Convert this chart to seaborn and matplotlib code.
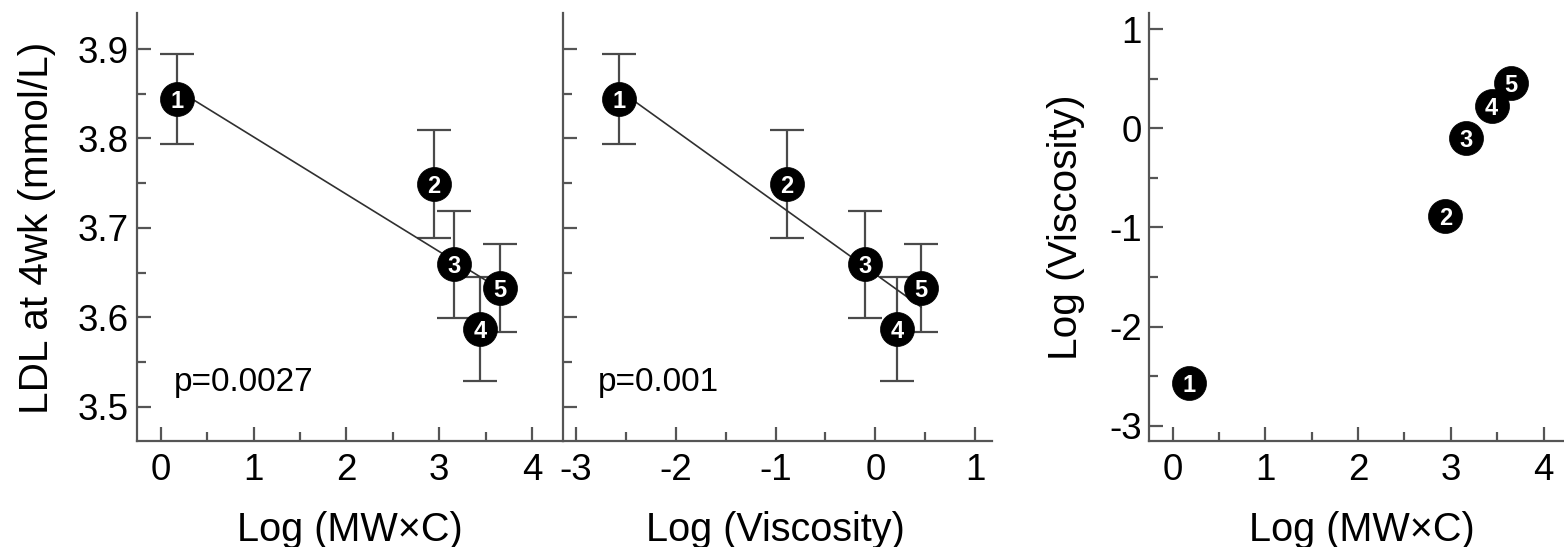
import matplotlib
matplotlib.use("Agg")
import matplotlib.pyplot as plt
from matplotlib.ticker import MultipleLocator
import seaborn as sns
import pandas as pd

# ---- data ----
groups = ["1", "2", "3", "4", "5"]
log_mwc = [0.175, 2.94, 3.16, 3.44, 3.65]
log_visc = [-2.57, -0.89, -0.10, 0.22, 0.46]
ldl = [3.844, 3.749, 3.659, 3.587, 3.633]
ldl_err = [0.050, 0.060, 0.060, 0.058, 0.049]
p_labels = ["p=0.0027", "p=0.001"]

df = pd.DataFrame({"group": groups, "mwc": log_mwc, "visc": log_visc,
                   "ldl": ldl, "err": ldl_err})

sns.set_style("ticks")
plt.rcParams["font.family"] = ["Liberation Sans", "DejaVu Sans"]
plt.rcParams["axes.unicode_minus"] = False
plt.rcParams["text.color"] = "black"
plt.rcParams["axes.labelcolor"] = "black"

SPINE = "#555555"
TICK_FS = 26.5
XLABEL_FS = 28.5
YLABEL_FS = 29.2
P_FS = 24
MS = 600
LW = 1.6

fig = plt.figure(figsize=(15.64, 5.47), dpi=100)
ax1 = fig.add_axes([0.0874, 0.1929, 0.2724, 0.7828])
ax2 = fig.add_axes([0.3602, 0.1929, 0.2739, 0.7828])
ax3 = fig.add_axes([0.7349, 0.1929, 0.2651, 0.7828])


def style_axis(ax, xmaj, xmin, ymaj, ymin):
    for s in ["top", "right"]:
        ax.spines[s].set_visible(False)
    for s in ["left", "bottom"]:
        ax.spines[s].set_color(SPINE)
        ax.spines[s].set_linewidth(LW)
    ax.xaxis.set_major_locator(MultipleLocator(xmaj))
    ax.xaxis.set_minor_locator(MultipleLocator(xmin))
    ax.yaxis.set_major_locator(MultipleLocator(ymaj))
    ax.yaxis.set_minor_locator(MultipleLocator(ymin))
    ax.tick_params(which="major", direction="in", length=10, width=LW,
                   color=SPINE, labelsize=TICK_FS, labelcolor="black")
    ax.tick_params(which="minor", direction="in", length=6.5, width=LW,
                   color=SPINE)
    ax.tick_params(axis="y", which="major", pad=5.5)
    ax.tick_params(axis="x", which="major", pad=8)
    ax.set_facecolor("white")


def draw_points(ax, xcol, ycol):
    sns.scatterplot(data=df, x=xcol, y=ycol, ax=ax, s=MS, color="black",
                    edgecolor="black", linewidth=0.5, zorder=5, legend=False)
    for _, r in df.iterrows():
        ax.text(r[xcol], r[ycol], r["group"], color="white", fontsize=17,
                fontweight="bold", ha="center", va="center_baseline", zorder=6)


for ax, xcol in [(ax1, "mwc"), (ax2, "visc")]:
    ax.errorbar(df[xcol], df["ldl"], yerr=df["err"], fmt="none",
                ecolor="#4a4a4a", elinewidth=LW, capsize=12.5, capthick=LW,
                zorder=2)
    sns.regplot(data=df, x=xcol, y="ldl", ax=ax, scatter=False, ci=None,
                truncate=True, line_kws={"color": "#303030", "lw": 1.2,
                                         "zorder": 3})
    draw_points(ax, xcol, "ldl")
    ax.set_ylim(3.461, 3.940)

ax1.set_xlim(-0.26, 4.33)
ax2.set_xlim(-3.127, 1.167)
style_axis(ax1, 1, 0.5, 0.1, 0.05)
style_axis(ax2, 1, 0.5, 0.1, 0.05)
ax1.set_yticks([3.5, 3.6, 3.7, 3.8, 3.9])
ax1.set_yticklabels(["3.5", "3.6", "3.7", "3.8", "3.9"])
ax2.tick_params(labelleft=False)

ax1.text(0.14, 3.518, p_labels[0], fontsize=P_FS, ha="left", va="baseline",
         color="black")
ax2.text(-2.78, 3.518, p_labels[1], fontsize=P_FS, ha="left", va="baseline",
         color="black")

ax1.set_xlabel("Log (MW\u00d7C)", fontsize=XLABEL_FS)
ax1.set_ylabel("LDL at 4wk (mmol/L)", fontsize=YLABEL_FS)
ax2.set_xlabel("Log (Viscosity)", fontsize=XLABEL_FS)
ax2.set_ylabel("")
ax1.xaxis.set_label_coords(0.5, -0.162)
ax2.xaxis.set_label_coords(0.495, -0.162)
ax1.yaxis.set_label_coords(-0.19, 0.5)

# panel 3
draw_points(ax3, "mwc", "visc")
ax3.set_xlim(-0.25, 4.22)
ax3.set_ylim(-3.16, 1.16)
style_axis(ax3, 1, 0.5, 1, 0.5)
ax3.set_xlabel("Log (MW\u00d7C)", fontsize=XLABEL_FS)
ax3.set_ylabel("Log (Viscosity)", fontsize=YLABEL_FS)
ax3.xaxis.set_label_coords(0.513, -0.162)
ax3.yaxis.set_label_coords(-0.155, 0.5)

fig.savefig("out.png", dpi=100, facecolor="white")
